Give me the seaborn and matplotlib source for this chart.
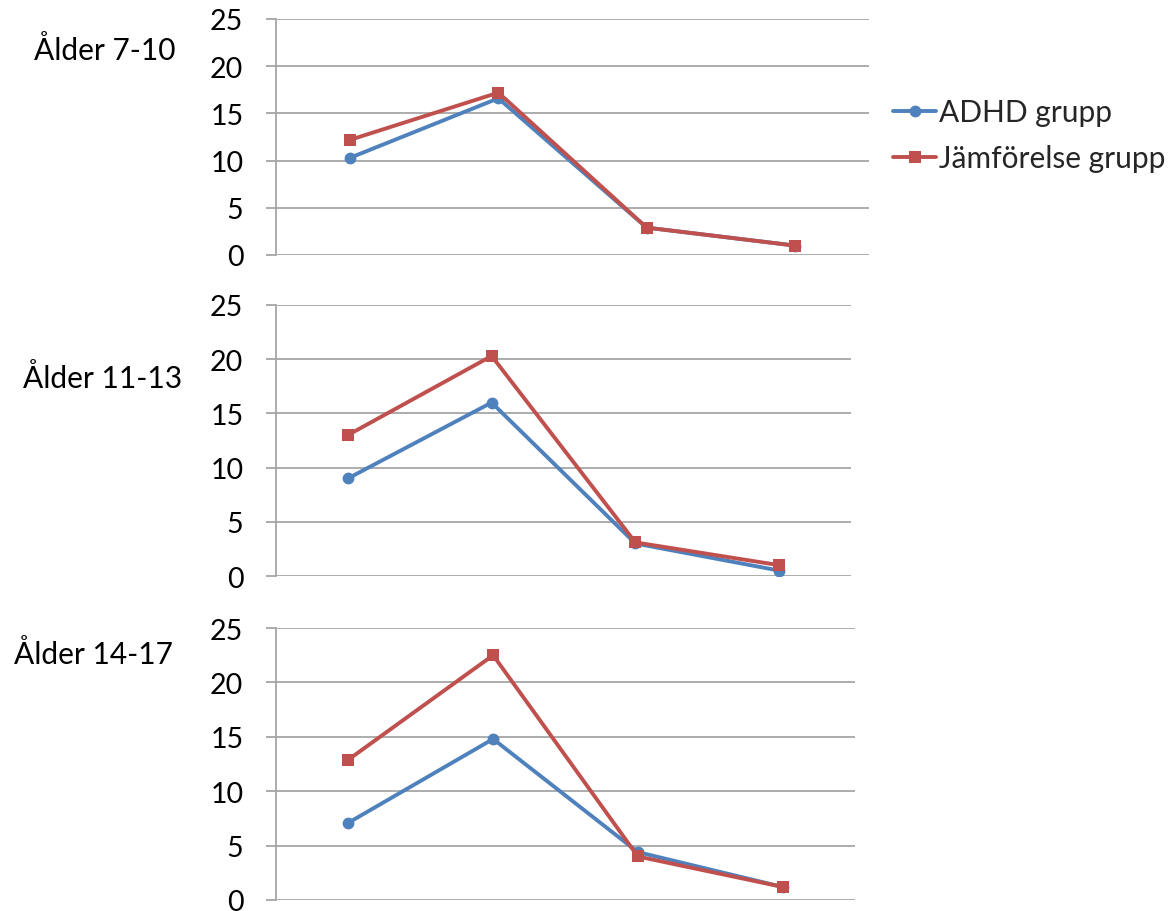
import matplotlib
matplotlib.use("Agg")
import matplotlib.pyplot as plt
import seaborn as sns
import pandas as pd

# Data
categories = ["1", "2", "3", "4"]
age_groups = ["Ålder 7-10", "Ålder 11-13", "Ålder 14-17"]
series_names = ["ADHD grupp", "Jämförelse grupp"]
adhd_values = [
    [10.3, 16.6, 2.9, 1.0],
    [9.0, 16.0, 3.0, 0.5],
    [7.1, 14.8, 4.4, 1.2],
]
jamf_values = [
    [12.2, 17.2, 2.9, 1.0],
    [13.0, 20.3, 3.1, 1.0],
    [12.9, 22.5, 4.0, 1.2],
]
y_ticks = [0, 5, 10, 15, 20, 25]

sns.set_theme(style="white")
plt.rcParams["font.family"] = ["Lato", "DejaVu Sans"]

W, H = 1176, 912
fig = plt.figure(figsize=(W / 100, H / 100), dpi=100)

# axes boxes in pixels: left, top, right, bottom
boxes = [(276, 20, 869, 256), (276, 306, 851, 577), (276, 629, 855, 901)]
label_pos = [(105, 50), (103, 378), (93, 655)]

palette = {"ADHD grupp": "#4F81BD", "Jämförelse grupp": "#C0504D"}
markers = {"ADHD grupp": "o", "Jämförelse grupp": "s"}
grid_col = "#A6A6A6"

axes = []
for i, (l, t, r, b) in enumerate(boxes):
    ax = fig.add_axes([l / W, 1 - b / H, (r - l) / W, (b - t) / H])
    axes.append(ax)
    rows = []
    for j, c in enumerate(categories):
        rows.append({"x": j, "val": adhd_values[i][j], "grupp": series_names[0]})
    for j, c in enumerate(categories):
        rows.append({"x": j, "val": jamf_values[i][j], "grupp": series_names[1]})
    df = pd.DataFrame(rows)
    sns.lineplot(data=df, x="x", y="val", hue="grupp", style="grupp",
                 palette=palette, markers=markers, dashes=False,
                 linewidth=2.8, markersize=8.5, markeredgewidth=0,
                 ax=ax, legend=(i == 0), zorder=3)
    ax.set_xlim(-0.5, 3.5)
    ax.set_ylim(0, 25)
    ax.set_yticks(y_ticks)
    ax.set_xticks([])
    ax.set_xlabel("")
    ax.set_ylabel("")
    ax.grid(axis="y", color=grid_col, linewidth=1.3, zorder=0)
    ax.set_axisbelow(True)
    for s in ["top", "right", "bottom"]:
        ax.spines[s].set_visible(False)
    ax.spines["left"].set_color(grid_col)
    ax.spines["left"].set_linewidth(1.3)
    ax.tick_params(axis="y", length=7.5, width=1.3, color=grid_col,
                   labelsize=20.5, pad=16, labelcolor="black", left=True)
    fig.text(label_pos[i][0] / W, 1 - label_pos[i][1] / H, age_groups[i],
             ha="center", va="center", fontsize=21.5, color="black")

handles, labels = axes[0].get_legend_handles_labels()
axes[0].get_legend().remove()
fig.legend(handles, labels, loc="center left",
           bbox_to_anchor=(893 / W, 1 - 136 / H), frameon=False,
           fontsize=21.5, handlelength=1.45, handletextpad=0.1,
           labelspacing=0.6, borderaxespad=0, borderpad=0)

fig.savefig("out.png", dpi=100)
